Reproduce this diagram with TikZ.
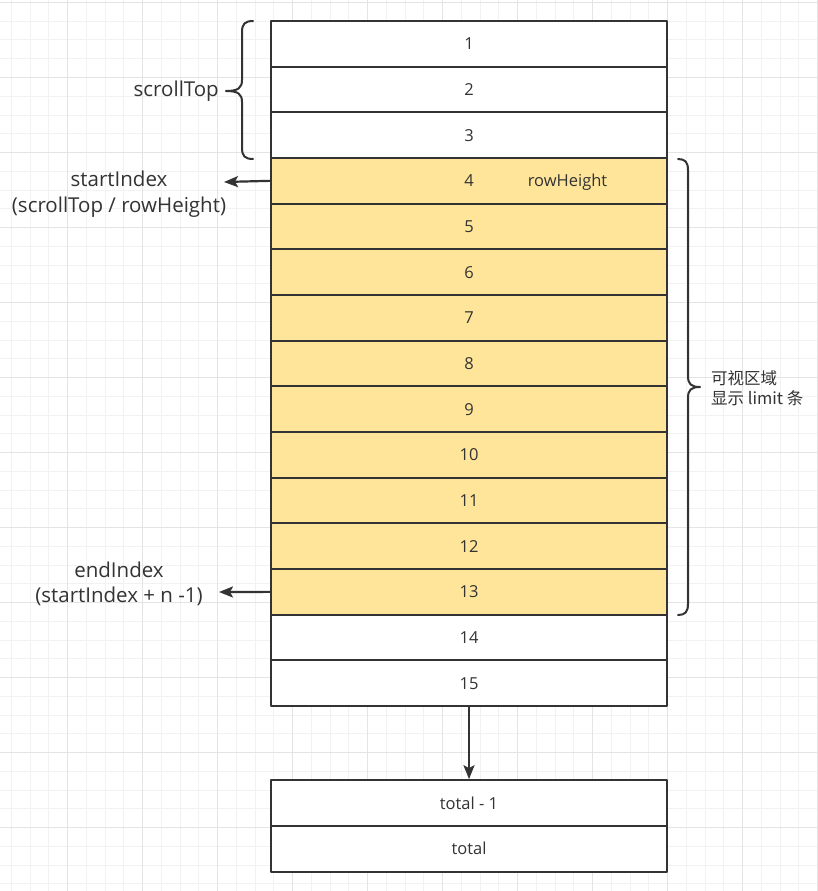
\documentclass[tikz,border=0pt]{standalone}
\usepackage{fontspec}
\setmainfont{Open Sans}
\newfontfamily\cjk{Noto Sans CJK SC}
\usetikzlibrary{arrows.meta, positioning, calc}

\definecolor{ink}{HTML}{333333}
\definecolor{viewfill}{HTML}{FFE599}
\definecolor{gridminor}{HTML}{F2F2F2}
\definecolor{gridmajor}{HTML}{E4E4E4}

\begin{document}
\begin{tikzpicture}[x=1pt, y=-1pt, >=Stealth, line cap=round, line join=round]
	%======================
	% STYLES
	%======================
	\tikzset{
		minorline/.style={gridminor, line width=1pt},
		majorline/.style={gridmajor, line width=1pt},
		cell/.style={draw=ink, line width=2pt, fill=white, minimum width=396pt,
			minimum height=45.67pt, inner sep=0pt, text=ink, font=\fontsize{16.5}{18}\selectfont},
		visible/.style={fill=viewfill},
		plain/.style={fill=white},
		lbl/.style={text=ink, inner sep=0pt, align=center, font=\fontsize{20.5}{26}\selectfont},
		brace/.style={draw=ink, line width=2pt},
		arr/.style={draw=ink, line width=2.2pt, -{Stealth[length=14pt, width=11pt, inset=3pt]}}
	}
	
	\useasboundingbox (0,0) rectangle (818,891);
	\fill[white] (0,0) rectangle (818,891);
	
	% background grid
	\foreach \k in {0,...,43}
		\draw[minorline] ({11.25+18.75*\k},0) -- ++(0,891);
	\foreach \k in {0,...,47}
		\draw[minorline] (0,{2.5+18.75*\k}) -- ++(818,0);
	\foreach \k in {0,...,10}
		\draw[majorline] ({67.5+75*\k},0) -- ++(0,891);
	\foreach \k in {0,...,11}
		\draw[majorline] (0,{2.5+75*\k}) -- ++(818,0);
	
	% rows 1..15, rows 4..13 are in view
	\foreach \i in {1,...,15}{
		\ifnum\i>3 \ifnum\i<14 \def\rowfill{visible}\else\def\rowfill{plain}\fi
		\else\def\rowfill{plain}\fi
		\node[cell, \rowfill] (r\i) at (469,{21+45.67*(\i-0.5)}) {\i};
	}
	\node[text=ink, inner sep=0pt, font=\fontsize{16.5}{18}\selectfont] (rh) at (567.5,182) {rowHeight};
	
	% last rows
	\node[cell] (t1) at (469,803) {total - 1};
	\node[cell] (t2) at (469,848.67) {total};
	\draw[arr] (r15.south) -- (t1.north);
	
	% scrollTop brace
	\draw[brace] (253,21) .. controls (245,21) and (242,24) .. (242,32) -- (242,80)
		.. controls (242,88) and (238,91) .. (226,91)
		.. controls (238,91) and (242,94) .. (242,102) -- (242,148)
		.. controls (242,156) and (245,159) .. (253,159);
	\node[lbl, anchor=east] (st) at (219,91) {scrollTop};
	
	% visible area brace
	\draw[brace] (678,159) .. controls (685,159) and (688,162) .. (688,170) -- (688,376)
		.. controls (688,384) and (691,387) .. (700,387)
		.. controls (691,387) and (688,390) .. (688,398) -- (688,604)
		.. controls (688,612) and (685,615) .. (678,615);
	\node[text=ink, inner sep=0pt, anchor=west, align=left,
		font=\cjk\fontsize{16.5}{19.5}\selectfont] (va) at (711,388) {可视区域\\显示 limit 条};
	
	% start / end index
	\coordinate (sEnd) at (224,182);
	\draw[arr] (r4.west) -- (sEnd);
	\node[lbl] (si) at (119,194) {startIndex\\(scrollTop / rowHeight)};
	
	\coordinate (eEnd) at (219,592);
	\draw[arr] (r13.west) -- (eEnd);
	\node[lbl, font=\fontsize{20.5}{24.5}\selectfont] (ei) at (119,584) {endIndex\\(startIndex + n -1)};
\end{tikzpicture}
\end{document}
